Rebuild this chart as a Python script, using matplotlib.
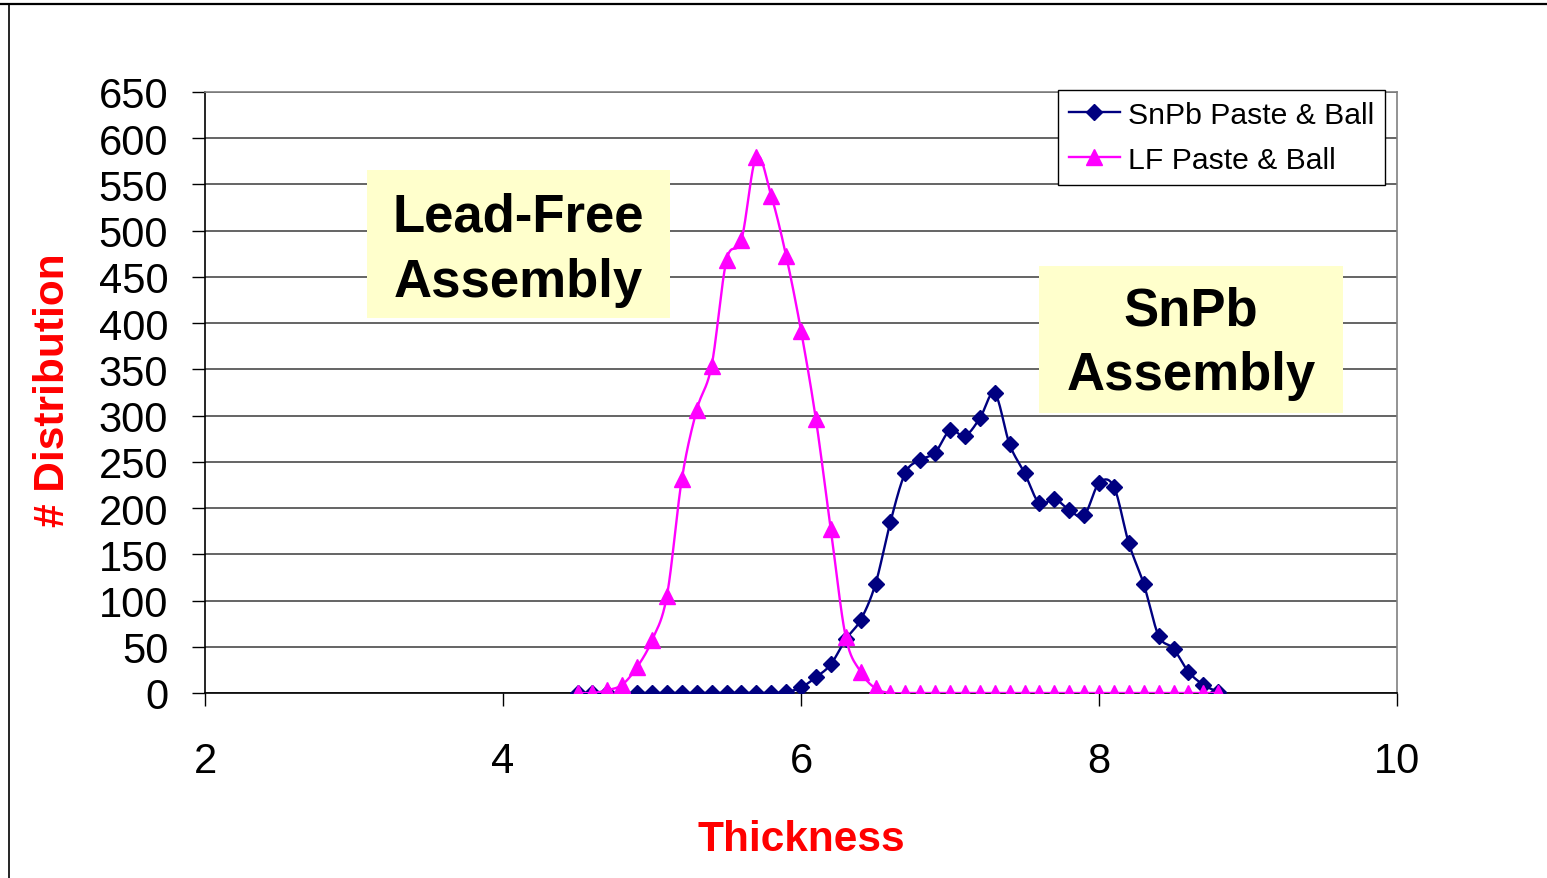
import numpy as np
import matplotlib
matplotlib.use("Agg")
import matplotlib.pyplot as plt
from matplotlib.patches import Rectangle
from matplotlib.lines import Line2D

plt.rcParams['font.family'] = ['Liberation Sans', 'DejaVu Sans']

# ---- data ----
thickness = [4.5, 4.6, 4.7, 4.8, 4.9, 5.0, 5.1, 5.2, 5.3, 5.4, 5.5, 5.6, 5.7, 5.8, 5.9,
             6.0, 6.1, 6.2, 6.3, 6.4, 6.5, 6.6, 6.7, 6.8, 6.9, 7.0, 7.1, 7.2, 7.3, 7.4,
             7.5, 7.6, 7.7, 7.8, 7.9, 8.0, 8.1, 8.2, 8.3, 8.4, 8.5, 8.6, 8.7, 8.8]
snpb = [0, 0, 0, 0, 0, 0, 0, 0, 0, 0, 0, 0, 0, 0, 1,
        6, 17, 31, 58, 79, 118, 185, 238, 252, 260, 284, 278, 297, 324, 269,
        238, 205, 210, 198, 192, 227, 223, 162, 118, 62, 48, 23, 9, 1]
lf = [0, 0, 3, 9, 28, 57, 105, 231, 306, 354, 468, 490, 580, 538, 473,
      392, 296, 177, 61, 23, 5, 0, 0, 0, 0, 0, 0, 0, 0, 0,
      0, 0, 0, 0, 0, 0, 0, 0, 0, 0, 0, 0, 0, 0]
series_names = ["SnPb Paste & Ball", "LF Paste & Ball"]
x_ticks = [2, 4, 6, 8, 10]
y_ticks = list(range(0, 651, 50))

W, H = 1547, 879


def smooth(x, y, n=20):
    """Catmull-Rom style smoothing (like Excel's smoothed line)."""
    x = np.asarray(x, float)
    y = np.asarray(y, float)
    px = np.concatenate([[x[0]], x, [x[-1]]])
    py = np.concatenate([[y[0]], y, [y[-1]]])
    xs, ys = [], []
    t = np.linspace(0, 1, n, endpoint=False)
    for i in range(1, len(px) - 2):
        p0, p1, p2, p3 = (np.array([px[j], py[j]]) for j in (i - 1, i, i + 1, i + 2))
        c1 = p1 + (p2 - p0) / 6.0
        c2 = p2 - (p3 - p1) / 6.0
        b = ((1 - t) ** 3)[:, None] * p1 + (3 * (1 - t) ** 2 * t)[:, None] * c1 + \
            (3 * (1 - t) * t ** 2)[:, None] * c2 + (t ** 3)[:, None] * p2
        xs.append(b[:, 0]); ys.append(b[:, 1])
    xs.append([x[-1]]); ys.append([y[-1]])
    return np.concatenate(xs), np.concatenate(ys)


fig = plt.figure(figsize=(W / 100, H / 100), dpi=100)
fig.patch.set_facecolor('white')


def fx(px):
    return px / W


def fy(py):
    return 1 - py / H


ax = fig.add_axes([fx(205), fy(694), fx(1397) - fx(205), fy(93) - fy(694)])
ax.set_xlim(2, 10)
ax.set_ylim(0, 650)
ax.set_xticks(x_ticks)
ax.set_yticks(y_ticks)
ax.tick_params(axis='x', direction='out', length=9, width=1, pad=25.5, labelsize=30)
ax.tick_params(axis='y', direction='out', length=9.5, width=1, pad=17, labelsize=30)
ax.grid(axis='y', color='#3a3a3a', linewidth=1.1, zorder=0)
ax.set_axisbelow(True)
for s in ['left', 'bottom']:
    ax.spines[s].set_color('black')
    ax.spines[s].set_linewidth(1.2)
for s in ['top', 'right']:
    ax.spines[s].set_color('#808080')
    ax.spines[s].set_linewidth(1.2)

navy = '#000080'
mag = '#FF00FF'
d_size = 8.5
t_size = 12

sx, sy = smooth(thickness, snpb)
ax.plot(sx, sy, color=navy, lw=1.7, zorder=3)
ax.plot(thickness, snpb, linestyle='none', marker='D', markersize=d_size,
        color=navy, zorder=4)
lx, ly = smooth(thickness, lf)
ax.plot(lx, ly, color=mag, lw=1.7, zorder=5)
ax.plot(thickness, lf, linestyle='none', marker='^', markersize=t_size,
        color=mag, zorder=6)

handles = [Line2D([], [], color=navy, lw=1.7, marker='D', markersize=d_size),
           Line2D([], [], color=mag, lw=1.7, marker='^', markersize=t_size)]
leg = fig.legend(handles, series_names, loc='upper left',
                 bbox_to_anchor=(fx(1058), fy(91)), fontsize=21.7,
                 frameon=True, fancybox=False, framealpha=1,
                 edgecolor='black', handlelength=1.7, handletextpad=0.27,
                 borderpad=0.36, labelspacing=0.56, borderaxespad=0)
leg.get_frame().set_linewidth(1.0)


# annotation boxes
def note_box(x0, y0, x1, y1, lines, base1, base2):
    fig.add_artist(Rectangle((fx(x0), fy(y1)), fx(x1) - fx(x0), fy(y0) - fy(y1),
                             transform=fig.transFigure, facecolor='#FFFFCC',
                             edgecolor='none', zorder=2))
    cx = fx((x0 + x1) / 2)
    fig.text(cx, fy(base1), lines[0], ha='center', va='baseline', fontsize=38,
             fontweight='bold', color='black', zorder=3)
    fig.text(cx, fy(base2), lines[1], ha='center', va='baseline', fontsize=38,
             fontweight='bold', color='black', zorder=3)


note_box(367, 171, 670, 319, ["Lead-Free", "Assembly"], 232, 297)
note_box(1039, 267, 1343, 414, ["SnPb", "Assembly"], 325, 390)

# axis titles
fig.text(fx(801), fy(851), "Thickness", ha='center', va='baseline',
         fontsize=30.5, fontweight='bold', color='#FF0000')
fig.text(fx(53), fy(390), "# Distribution", ha='center', va='center',
         rotation=90, fontsize=30.5, fontweight='bold', color='#FF0000')

# slide frame lines
fig.add_artist(Line2D([fx(9), fx(9)], [fy(5), 0], transform=fig.transFigure,
                      color='black', lw=1.2))
fig.add_artist(Line2D([0, 1], [fy(5), fy(5)], transform=fig.transFigure,
                      color='black', lw=1.6))

fig.savefig('out.png', dpi=100, facecolor='white')
